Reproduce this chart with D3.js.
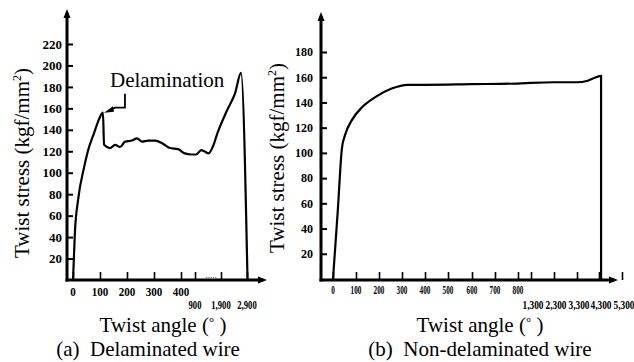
<!DOCTYPE html>
<html>
<head>
<meta charset="UTF-8">
<script src="https://cdn.jsdelivr.net/npm/d3@7/dist/d3.min.js"></script>
<style>
    body { margin: 0; background: #fff; }
    svg text { font-family: "Liberation Serif", "Times New Roman", serif; fill: #000; }
    .tl { font-weight: bold; }
</style>
</head>
<body>
<svg id="chart" width="634" height="362"></svg>
<script>
    // (a) delaminated wire: twist angle (deg) vs twist stress (kgf/mm2)
    var delamAngle  = [0, 4, 7, 19, 41, 56, 78, 100, 111, 115, 137, 156, 174, 193, 219, 237, 256, 278, 304, 333, 359, 389, 533, 767, 940, 1140, 1260, 1420, 1580, 1780, 2130, 2440, 2670, 2920];
    var delamStress = [0, 25, 44, 75, 105, 121, 137, 152, 156, 126, 123, 126, 124, 129, 130, 132, 129, 130, 130, 127, 123, 122, 118, 117, 117, 121, 120, 118, 124, 138, 158, 174, 193, 0];

    // (b) non-delaminated wire
    var nonAngle  = [0, 20, 39, 52, 82, 125, 182, 255, 324, 398, 600, 800, 1300, 2300, 3300, 3750, 4020, 4390, 4390];
    var nonStress = [0, 52, 104, 114, 126, 136, 144, 151, 154, 154, 154.5, 155, 155.5, 156, 156, 157, 159, 161, 0];

    // axis ticks
    var delamYTicks = [20, 40, 60, 80, 100, 120, 140, 160, 180, 200, 220];
    var nonYTicks   = [20, 40, 60, 80, 100, 120, 140, 160, 180];
    var delamXTicks = [0, 100, 200, 300, 400, 900, 1900, 2900];
    var delamXRow1  = [0, 100, 200, 300, 400];
    var delamXRow2  = [900, 1900, 2900];
    var nonXTicks   = [0, 100, 200, 300, 400, 500, 600, 700, 800, 1300, 2300, 3300, 4300, 5300];
    var nonXRow1    = [0, 100, 200, 300, 400, 500, 600, 700, 800];
    var nonXRow2    = [1300, 2300, 3300, 4300, 5300];

    var svg = d3.select("#chart");
    var fmt = d3.format(",");

    // broken x axes -> polylinear scales
    var xL = d3.scaleLinear().domain(delamXTicks).range([73, 100, 127, 154, 181, 195, 221, 247]);
    var yL = d3.scaleLinear().domain([0, 220]).range([280, 44]);
    var xR = d3.scaleLinear().domain(nonXTicks).range([333, 356, 379, 402, 425, 448, 472, 495, 518, 531, 554, 577, 599, 622]);
    var yR = d3.scaleLinear().domain([0, 180]).range([279, 52]);

    function arrowUp(x, y) {
        return "M" + (x - 3.5) + "," + (y + 9) + "L" + x + "," + y + "L" + (x + 3.5) + "," + (y + 9) + "Z";
    }
    function arrowRight(x, y) {
        return "M" + (x - 9) + "," + (y - 3.5) + "L" + x + "," + y + "L" + (x - 9) + "," + (y + 3.5) + "Z";
    }

    function panel(o) {
        var g = svg.append("g");

        // y axis ticks + labels
        var ya = g.append("g")
            .attr("transform", "translate(" + o.ax + ",0)")
            .call(d3.axisLeft(o.y).tickValues(o.yTicks).tickSize(-o.yTick).tickPadding(o.yPad));
        ya.select(".domain").remove();
        ya.attr("font-family", null).attr("font-size", null);
        ya.selectAll(".tick line").attr("stroke", "#000").attr("stroke-width", 2);
        ya.selectAll(".tick text").attr("class", "tl").style("font-size", o.yFont + "px");

        // x axis ticks (upward)
        var xa = g.append("g")
            .attr("transform", "translate(0," + o.base + ")")
            .call(d3.axisBottom(o.x).tickValues(o.xTicks).tickSize(-8).tickFormat(""));
        xa.select(".domain").remove();
        xa.selectAll(".tick line").attr("stroke", "#000").attr("stroke-width", 1.6);

        // axis lines with arrows
        g.append("line").attr("x1", o.ax).attr("x2", o.ax).attr("y1", o.base + 1.5).attr("y2", o.top + 4)
            .attr("stroke", "#000").attr("stroke-width", 3);
        g.append("path").attr("d", arrowUp(o.ax, o.top)).attr("fill", "#000");
        g.append("line").attr("x1", o.ax - 1.5).attr("x2", o.right - 4).attr("y1", o.base).attr("y2", o.base)
            .attr("stroke", "#000").attr("stroke-width", 3);
        g.append("path").attr("d", arrowRight(o.right, o.base)).attr("fill", "#000");

        // x tick labels, two rows, condensed
        g.selectAll(".r1").data(o.row1).enter().append("text")
            .attr("class", "tl")
            .attr("transform", function(d) { return "translate(" + o.x(d) + "," + o.row1y + ") scale(" + o.sx1 + ",1)"; })
            .attr("text-anchor", "middle")
            .style("font-size", o.xFont + "px")
            .text(function(d) { return fmt(d); });
        g.selectAll(".r2").data(o.row2).enter().append("text")
            .attr("class", "tl")
            .attr("transform", function(d) { return "translate(" + (o.x(d) + o.r2dx) + "," + o.row2y + ") scale(" + o.sx2 + ",1)"; })
            .attr("text-anchor", "middle")
            .style("font-size", o.xFont2 + "px")
            .text(function(d) { return fmt(d); });

        // curve
        var line = d3.line()
            .x(function(d) { return o.x(d[0]); })
            .y(function(d) { return o.y(d[1]); })
            .curve(d3.curveMonotoneX);
        g.append("path")
            .datum(d3.zip(o.angle, o.stress))
            .attr("d", line)
            .attr("fill", "none")
            .attr("stroke", "#000")
            .attr("stroke-width", 2.2)
            .attr("stroke-linejoin", "round");

        // titles
        g.append("text")
            .attr("x", o.xTitleX).attr("y", 332)
            .attr("text-anchor", "middle").style("font-size", "21px")
            .html("Twist angle (<tspan dy='-6' font-size='13px'>°</tspan><tspan dy='6'> )</tspan>");
        g.append("text")
            .attr("x", o.capX).attr("y", 356)
            .attr("text-anchor", "middle").style("font-size", "21px")
            .attr("xml:space", "preserve")
            .text(o.caption);
        g.append("text")
            .attr("transform", "translate(" + o.yTitleX + "," + o.yTitleY + ") rotate(-90)")
            .attr("text-anchor", "middle").style("font-size", "21px")
            .html("Twist stress (kgf/mm<tspan dy='-8' font-size='12px'>2</tspan><tspan dy='8'>)</tspan>");
        return g;
    }

    var gA = panel({
        x: xL, y: yL, ax: 67, base: 280, top: 9, right: 267,
        yTicks: delamYTicks, yTick: 6, yPad: 5, yFont: 13,
        xTicks: delamXTicks, row1: delamXRow1, row2: delamXRow2,
        row1y: 296, row2y: 309, xFont: 13, xFont2: 12, sx1: 0.85, sx2: 0.72, r2dx: 0,
        angle: delamAngle, stress: delamStress,
        xTitleX: 163, capX: 148, caption: "(a)  Delaminated wire",
        yTitleX: 29, yTitleY: 163
    });

    var gB = panel({
        x: xR, y: yR, ax: 321, base: 280, top: 12, right: 618,
        yTicks: nonYTicks, yTick: 6, yPad: 8, yFont: 12,
        xTicks: nonXTicks, row1: nonXRow1, row2: nonXRow2,
        row1y: 294, row2y: 309, xFont: 12, xFont2: 12, sx1: 0.6, sx2: 0.78, r2dx: 2,
        angle: nonAngle, stress: nonStress,
        xTitleX: 480, capX: 480, caption: "(b)  Non-delaminated wire",
        yTitleX: 284, yTitleY: 158
    });

    // dotted break on the (a) axis
    gA.append("text")
        .attr("x", (xL(900) + xL(1900)) / 2 + 3).attr("y", 278)
        .attr("text-anchor", "middle").style("font-size", "9px")
        .text(".....");

    // delamination annotation, anchored on the peak before the drop
    var px = xL(111), py = yL(156);
    gA.append("path")
        .attr("d", "M" + (px + 22) + "," + (py - 19) + "V" + (py - 5) + "H" + (px + 12) + "L" + (px + 6) + "," + (py - 2))
        .attr("fill", "none").attr("stroke", "#000").attr("stroke-width", 1.8);
    gA.append("path")
        .attr("d", "M" + (px + 1) + "," + (py) + "L" + (px + 10) + "," + (py - 6.5) + "L" + (px + 11) + "," + (py - 1) + "Z")
        .attr("fill", "#000");
    gA.append("text")
        .attr("x", px + 7).attr("y", py - 26)
        .style("font-size", "21px")
        .text("Delamination");
</script>
</body>
</html>
